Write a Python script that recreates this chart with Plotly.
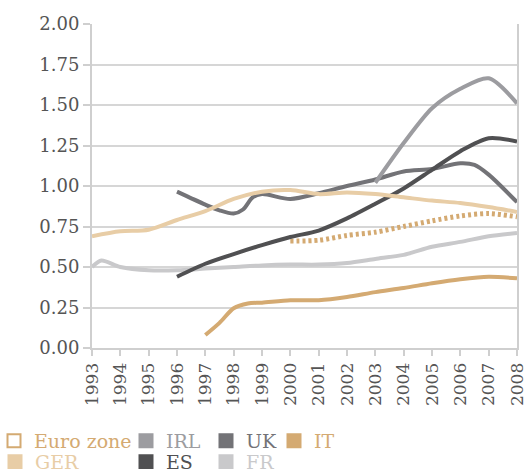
import plotly.graph_objects as go

# ---- data ----
ger_years = [1993, 1994, 1995, 1996, 1997, 1998, 1999, 2000, 2001, 2002, 2003, 2004, 2005, 2006, 2007, 2008]
ger_vals = [0.69, 0.72, 0.73, 0.79, 0.845, 0.92, 0.965, 0.975, 0.95, 0.96, 0.95, 0.93, 0.91, 0.895, 0.87, 0.84]

fr_years = [1993, 1993.33, 1994, 1995, 1996, 1997, 1998, 1999, 2000, 2001, 2002, 2003, 2004, 2005, 2006, 2007, 2008]
fr_vals = [0.50, 0.54, 0.50, 0.48, 0.48, 0.49, 0.50, 0.51, 0.515, 0.515, 0.525, 0.55, 0.575, 0.625, 0.655, 0.69, 0.71]

es_years = [1996, 1997, 1998, 1999, 2000, 2001, 2002, 2003, 2004, 2005, 2006, 2007, 2008]
es_vals = [0.44, 0.52, 0.58, 0.635, 0.685, 0.725, 0.80, 0.89, 0.985, 1.10, 1.215, 1.295, 1.275]

uk_years = [1996, 1997, 1997.5, 1998, 1998.33, 1998.67, 1999, 2000, 2001, 2002, 2003, 2004, 2005, 2006, 2006.5, 2007, 2008]
uk_vals = [0.965, 0.885, 0.85, 0.83, 0.855, 0.93, 0.95, 0.92, 0.955, 1.00, 1.04, 1.09, 1.105, 1.14, 1.13, 1.07, 0.90]

irl_years = [2003, 2004, 2005, 2006, 2007, 2008]
irl_vals = [1.02, 1.265, 1.48, 1.60, 1.665, 1.51]

it_years = [1997, 1997.5, 1998, 1998.5, 1999, 2000, 2001, 2002, 2003, 2004, 2005, 2006, 2007, 2008]
it_vals = [0.08, 0.155, 0.245, 0.275, 0.28, 0.295, 0.295, 0.315, 0.345, 0.37, 0.40, 0.425, 0.44, 0.43]

ez_years = [2000, 2001, 2002, 2003, 2004, 2005, 2006, 2007, 2008]
ez_vals = [0.66, 0.665, 0.695, 0.715, 0.75, 0.785, 0.815, 0.83, 0.81]

year_ticks = list(range(1993, 2009))
y_ticks = [0, 0.25, 0.5, 0.75, 1.0, 1.25, 1.5, 1.75, 2.0]

# ---- styles ----
C_TAN = "#D4AA72"
C_GER = "#E8CDA6"
C_IRL = "#9C9CA0"
C_UK = "#737377"
C_ES = "#505052"
C_FR = "#C9C9CB"

fig = go.Figure()

def line(x, y, color, width=4, dash=None):
    fig.add_trace(go.Scatter(x=x, y=y, mode="lines", showlegend=False, hoverinfo="skip",
                             line=dict(color=color, width=width, shape="spline", smoothing=0.8,
                                       dash=dash)))

line(fr_years, fr_vals, C_FR)
line(it_years, it_vals, C_TAN)
line(ez_years, ez_vals, C_TAN, width=5, dash="3px,3px")
line(uk_years, uk_vals, C_UK)
line(irl_years, irl_vals, C_IRL)
line(es_years, es_vals, C_ES)
line(ger_years, ger_vals, C_GER)

W, H = 524, 469

# legend proxies (one legend per entry for exact placement)
# (name, colour, symbol, anchor, x px, row centre px)
legend_items = [
    ("Euro zone", C_TAN, "square-open", "right", 137, 441),
    ("IRL", C_IRL, "square", "left", 168 - 42, 441),
    ("UK", C_UK, "square", "left", 248 - 42, 441),
    ("IT", C_TAN, "square", "left", 316 - 42, 441),
    ("GER", C_GER, "square", "right", 85, 462),
    ("ES", C_ES, "square", "left", 168 - 42, 462),
    ("FR", C_FR, "square", "left", 248 - 42, 462),
]
layout_legends = {}
for i, (name, color, sym, anchor, lx, ly) in enumerate(legend_items):
    key = "legend" if i == 0 else f"legend{i+1}"
    fig.add_trace(go.Scatter(x=[None], y=[None], mode="markers", name=f"<span style='color:{color}'>{name}</span>",
                             legend=key,
                             marker=dict(symbol=sym, size=13, color=color,
                                         line=dict(color=color, width=2))))
    layout_legends[key] = dict(
        xref="container", yref="container",
        x=lx / W, y=1 - ly / H, xanchor=anchor, yanchor="middle",
        bgcolor="rgba(0,0,0,0)", borderwidth=0,
        font=dict(family="DejaVu Serif", size=19, color=color),
        itemwidth=30,
    )

fig.update_layout(
    width=W, height=H,
    margin=dict(l=92, r=524 - 517, t=24, b=469 - 348, autoexpand=False),
    paper_bgcolor="white", plot_bgcolor="white",
    font=dict(family="DejaVu Serif", size=16, color="#555555"),
    **layout_legends,
)
fig.update_xaxes(
    range=[1993, 2008], tickmode="array", tickvals=year_ticks, ticktext=[str(v) for v in year_ticks],
    tickangle=-90, showgrid=False, zeroline=False, ticklabeloverflow="allow",
    showline=True, linecolor="#CFCFCF", linewidth=2,
    ticks="outside", ticklen=6, tickcolor="#CFCFCF", tickwidth=1.5,
    tickfont=dict(family="DejaVu Serif", size=17, color="#555555"),
)
fig.update_yaxes(
    range=[0, 2.0], tickmode="array", tickvals=y_ticks, tickformat=".2f",
    showgrid=True, gridcolor="#D6D6D6", gridwidth=1.5, zeroline=False,
    showline=True, mirror=True, linecolor="#CFCFCF", linewidth=2,
    ticks="outside", ticklen=7, tickcolor="#CFCFCF", tickwidth=1.5,
    tickfont=dict(family="DejaVu Serif", size=18, color="#555555"),
)

fig.write_html(
    "out.html",
    config={"displayModeBar": False},
    post_script="document.body.style.margin='0';document.body.style.overflow='hidden';",
)
